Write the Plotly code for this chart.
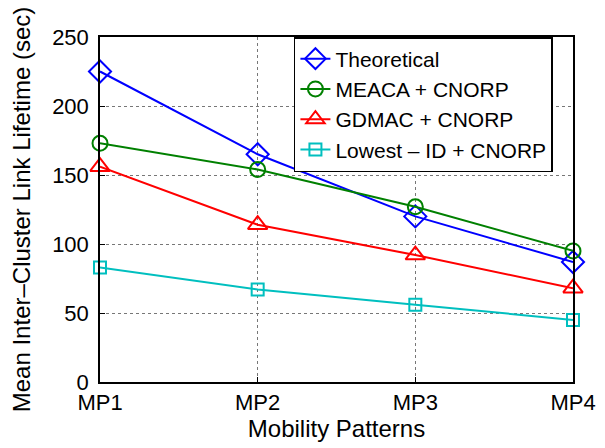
import plotly.graph_objects as go

categories = ["MP1", "MP2", "MP3", "MP4"]
theoretical = [225, 165, 120, 87]
meaca = [173, 154, 127, 95]
gdmac = [156, 114, 92, 68]
lowest_id = [83, 67, 56, 45]
y_ticks = [0, 50, 100, 150, 200, 250]

series = [
    ("Theoretical", theoretical, "#0000ff", "diamond-open", 17),
    ("MEACA + CNORP", meaca, "#008000", "circle-open", 15),
    ("GDMAC + CNORP", gdmac, "#ff0000", "triangle-up-open", 17),
    ("Lowest \u2013 ID + CNORP", lowest_id, "#00bfbf", "square-open", 12),
]

fig = go.Figure()
for name, vals, color, sym, size in series:
    fig.add_trace(go.Scatter(
        x=categories, y=vals, name=name, mode="lines+markers",
        line=dict(color=color, width=2),
        marker=dict(symbol=sym, size=size, color=color, line=dict(width=2, color=color)),
        cliponaxis=False,
    ))

font = "Liberation Sans, Arial, Helvetica, sans-serif"
# page body has an 8px default margin, so the figure is sized 8px smaller
fig.update_layout(
    width=597, height=440,
    margin=dict(l=92, r=32, t=29, b=66),
    paper_bgcolor="white", plot_bgcolor="white",
    font=dict(family=font, size=22, color="black"),
    showlegend=True,
    legend=dict(
        x=0.41, y=1.0, xanchor="left", yanchor="top",
        bordercolor="black", borderwidth=1.5, bgcolor="white",
        font=dict(size=21), tracegroupgap=0, itemwidth=30,
        entrywidth=230, entrywidthmode="pixels",
    ),
    xaxis=dict(
        type="category", range=[0, 3], automargin=False,
        showline=True, linecolor="black", linewidth=1.5, mirror=True,
        ticks="inside", ticklen=5, tickcolor="black",
        showgrid=True, gridcolor="#777", griddash="dot", gridwidth=1,
        title=dict(text="Mobility Patterns", standoff=0, font=dict(size=24)),
        tickfont=dict(size=22),
    ),
    yaxis=dict(
        range=[0, 250], tickvals=y_ticks, automargin=False,
        showline=True, linecolor="black", linewidth=1.5, mirror=True,
        ticks="inside", ticklen=5, tickcolor="black",
        showgrid=True, gridcolor="#777", griddash="dot", gridwidth=1,
        ticklabelstandoff=5,
        title=dict(text="Mean Inter\u2013Cluster Link Lifetime (sec)", standoff=16, font=dict(size=24)),
        tickfont=dict(size=22), zeroline=False,
    ),
)
fig.write_html("out.html")
